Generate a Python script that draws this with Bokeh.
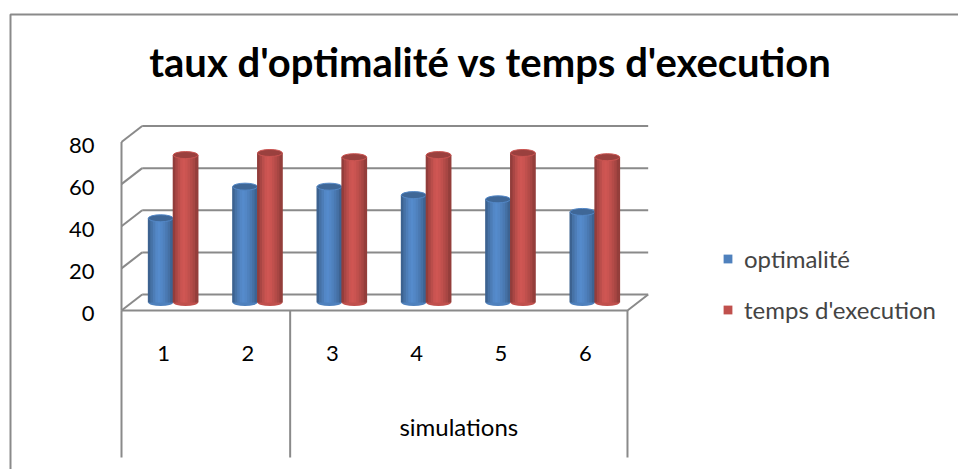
from bokeh.plotting import figure
from bokeh.models import Range1d, Legend, LegendItem
from bokeh.core.properties import value
from bokeh.embed import file_html
from bokeh.resources import INLINE

# ---- data ----
categories = ["1", "2", "3", "4", "5", "6"]
optimalite = [40, 55, 55, 51, 49, 43]
temps_execution = [70, 71, 69, 70, 71, 69]
series_names = ["optimalité", "temps d'execution"]
y_ticks = [0, 20, 40, 60, 80]
group_label = "simulations"
title_text = "taux d'optimalité vs temps d'execution"

# ---- geometry (pixel calibration of the reference) ----
W, H = 958, 469
X0, Y0 = 121.0, 310.0        # page px of front-left floor corner
PX, PY = 84.33, 2.106        # px per category, px per value unit


def ux(px):
    return (px - X0) / PX


def uy(py):
    return (Y0 - py) / PY


DX = 20.7 / PX               # depth offset (x)
DY = 16.0 / PY               # depth offset (value units)
NCAT = len(categories)

p = figure(width=W, height=H, output_backend="svg", toolbar_location=None,
           x_range=Range1d(ux(0), ux(W)), y_range=Range1d(uy(H), uy(0)),
           min_border=0, outline_line_color=None)
p.xaxis.visible = False
p.yaxis.visible = False
p.xgrid.visible = False
p.ygrid.visible = False
p.background_fill_color = "white"
p.border_fill_color = "white"

GRID = "#8a8a8a"

# chart border (left + top)
p.line([ux(10), ux(10), ux(W + 5)], [uy(H + 5), uy(14), uy(14)],
       line_color=GRID, line_width=2)

# back wall gridlines and left side diagonals
p.segment(x0=[DX] * len(y_ticks), y0=[t + DY for t in y_ticks],
          x1=[NCAT + DX] * len(y_ticks), y1=[t + DY for t in y_ticks],
          line_color=GRID, line_width=2)
p.segment(x0=[0] * len(y_ticks), y0=y_ticks,
          x1=[DX] * len(y_ticks), y1=[t + DY for t in y_ticks],
          line_color=GRID, line_width=2)
# front vertical axis line
p.line([0, 0], [0, max(y_ticks)], line_color=GRID, line_width=2)
# floor front edge and right diagonal
p.line([0, NCAT, NCAT + DX], [0, 0, DY], line_color=GRID, line_width=2)
# category band verticals
p.segment(x0=[0, 2, NCAT], y0=[0, 0, 0], x1=[0, 2, NCAT], y1=[uy(457)] * 3,
          line_color=GRID, line_width=2)

# ---- bars (cylinders) ----
BW = 0.295
BASE = DY / 2
profile = [0.76, 0.88, 0.97, 1.05, 1.08, 1.05, 1.0, 0.94, 0.87, 0.77]
NS = len(profile)


def shade(hexcol, f):
    r, g, b = int(hexcol[1:3], 16), int(hexcol[3:5], 16), int(hexcol[5:7], 16)
    c = [max(0, min(255, int(round(v * f)))) for v in (r, g, b)]
    return "#%02x%02x%02x" % tuple(c)


series = [(optimalite, "#4f81bd", -0.035), (temps_execution, "#c0504d", 0.26)]
legend_renderers = []
for vals, col, off in series:
    xs = [k + 0.5 + off for k in range(NCAT)]
    tops = [v + BASE for v in vals]
    # bottom ellipse
    p.ellipse(x=xs, y=[BASE] * NCAT, width=BW, height=7, height_units="screen",
              fill_color=col, line_color=None)
    ref = None
    for s, f in enumerate(profile):
        sx = [x - BW / 2 + (s + 0.5) * BW / NS for x in xs]
        r = p.vbar(x=sx, width=BW / NS * 1.35, bottom=BASE, top=tops,
                   fill_color=shade(col, f), line_color=None)
        if f == 1.0:
            ref = r
    legend_renderers.append(ref)
    # top ellipse
    p.ellipse(x=xs, y=tops, width=BW, height=7, height_units="screen",
              fill_color=shade(col, 0.8), line_color=shade(col, 1.05), line_width=1)

FONT = value("Lato")
# y tick labels
p.text(x=[ux(94)] * len(y_ticks), y=y_ticks, text=[str(t) for t in y_ticks],
       text_align="right", text_baseline="middle", y_offset=3,
       text_font=FONT, text_font_size="22px", text_color="black")
# category labels
p.text(x=[k + 0.5 for k in range(NCAT)], y=[uy(353)] * NCAT, text=categories,
       text_align="center", text_baseline="middle",
       text_font=FONT, text_font_size="22px", text_color="black")
# group label
p.text(x=[4.0], y=[uy(426)], text=[group_label], text_align="center",
       text_baseline="middle", text_font=FONT, text_font_size="24px",
       text_color="black")
# title
p.text(x=[ux(490)], y=[uy(61)], text=[title_text], text_align="center",
       text_baseline="middle", text_font=FONT, text_font_style="bold",
       text_font_size="40px", text_color="black")

legend = Legend(items=[LegendItem(label=series_names[i], renderers=[legend_renderers[i]])
                       for i in range(2)],
                location=(722, 145), orientation="vertical",
                glyph_width=11, glyph_height=11, label_height=20, spacing=22,
                label_standoff=11, padding=0, margin=0,
                label_text_font="Lato", label_text_font_size="24px",
                border_line_color=None, background_fill_alpha=0)
p.add_layout(legend)

open("out.html", "w").write(file_html(p, INLINE))
